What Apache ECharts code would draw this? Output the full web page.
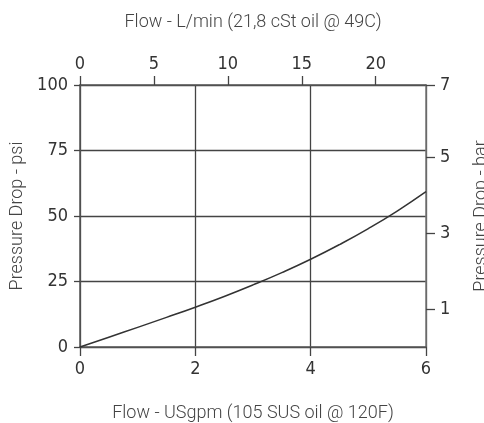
<!DOCTYPE html>
<html>
<head>
<meta charset="utf-8">
<script src="https://cdn.jsdelivr.net/npm/echarts@6/dist/echarts.min.js"></script>
<style>
  html, body { margin: 0; padding: 0; background: #fff; }
  #main { width: 484px; height: 423px; }
</style>
</head>
<body>
<div id="main"></div>
<script>
// flow in USgpm vs pressure drop in psi
var flowGpm = [0, 0.5, 1, 1.5, 2, 2.5, 3, 3.5, 4, 4.5, 5, 5.5, 6];
var dropPsi = [0, 3.75, 7.5, 11.3, 15.2, 19.3, 23.7, 28.4, 33.5, 39.1, 45.2, 51.9, 59.3];

var lpmTicks = [0, 5, 10, 15, 20];     // top axis
var barTicks = [1, 3, 5, 6.895];       // right axis, last one sits at 100 psi and reads "7"

var labelFont = "'DejaVu Sans Condensed', 'Liberation Sans Narrow', sans-serif";
var nameFont = "Roboto, 'Liberation Sans', sans-serif";

var chart = echarts.init(document.getElementById('main'), null, { renderer: 'canvas' });

var tickLabel = {
    fontFamily: labelFont,
    fontSize: 18,
    color: '#333'
};
var axisName = {
    fontFamily: nameFont,
    fontSize: 18,
    fontWeight: 300,
    color: '#444'
};
var lineBase = { onZero: false, show: true, lineStyle: { color: '#555', width: 1.5 } };

var option = {
    animation: false,
    backgroundColor: '#fff',
    grid: { left: 80, right: 58, top: 85, bottom: 76, outerBoundsMode: 'none', containLabel: false },
    xAxis: [{
        type: 'value',
        position: 'bottom',
        min: 0,
        max: 6,
        interval: 2,
        name: 'Flow - USgpm (105 SUS oil @ 120F)',
        nameLocation: 'middle',
        nameGap: 57,
        nameTextStyle: axisName,
        axisLine: lineBase,
        axisTick: { show: true, length: 9, lineStyle: { color: '#444', width: 1.3 } },
        axisLabel: Object.assign({ margin: 13 }, tickLabel),
        splitLine: { show: true, lineStyle: { color: '#444', width: 1.3 } }
    }, {
        type: 'value',
        position: 'top',
        min: 0,
        max: 23.4,
        name: 'Flow - L/min (21,8 cSt oil @ 49C)',
        nameLocation: 'middle',
        nameGap: 54,
        nameTextStyle: axisName,
        axisLine: lineBase,
        axisTick: { show: true, length: 9, customValues: lpmTicks, lineStyle: { color: '#444', width: 1.3 } },
        axisLabel: Object.assign({ margin: 12, customValues: lpmTicks }, tickLabel),
        splitLine: { show: false }
    }],
    yAxis: [{
        type: 'value',
        position: 'left',
        min: 0,
        max: 100,
        interval: 25,
        name: 'Pressure Drop - psi',
        nameLocation: 'middle',
        nameGap: 44,
        nameTextStyle: axisName,
        axisLine: lineBase,
        axisTick: { show: true, length: 6, lineStyle: { color: '#444', width: 1.3 } },
        axisLabel: Object.assign({ margin: 12 }, tickLabel),
        splitLine: { show: true, lineStyle: { color: '#444', width: 1.3 } }
    }, {
        type: 'value',
        position: 'right',
        min: 0,
        max: 6.895,
        name: 'Pressure Drop - bar',
        nameLocation: 'middle',
        nameGap: 46,
        nameTextStyle: axisName,
        axisLine: { onZero: false, show: true, lineStyle: { color: '#777', width: 1.5 } },
        axisTick: { show: true, length: 9, customValues: barTicks, lineStyle: { color: '#444', width: 1.3 } },
        axisLabel: Object.assign({
            margin: 14,
            customValues: barTicks,
            formatter: function (v) { return String(Math.round(v)); }
        }, tickLabel),
        splitLine: { show: false }
    }],
    series: [{
        type: 'line',
        xAxisIndex: 0,
        yAxisIndex: 0,
        data: flowGpm.map(function (x, i) { return [x, dropPsi[i]]; }),
        smooth: true,
        showSymbol: false,
        lineStyle: { color: '#333', width: 1.5 }
    }]
};

chart.setOption(option);
</script>
</body>
</html>
